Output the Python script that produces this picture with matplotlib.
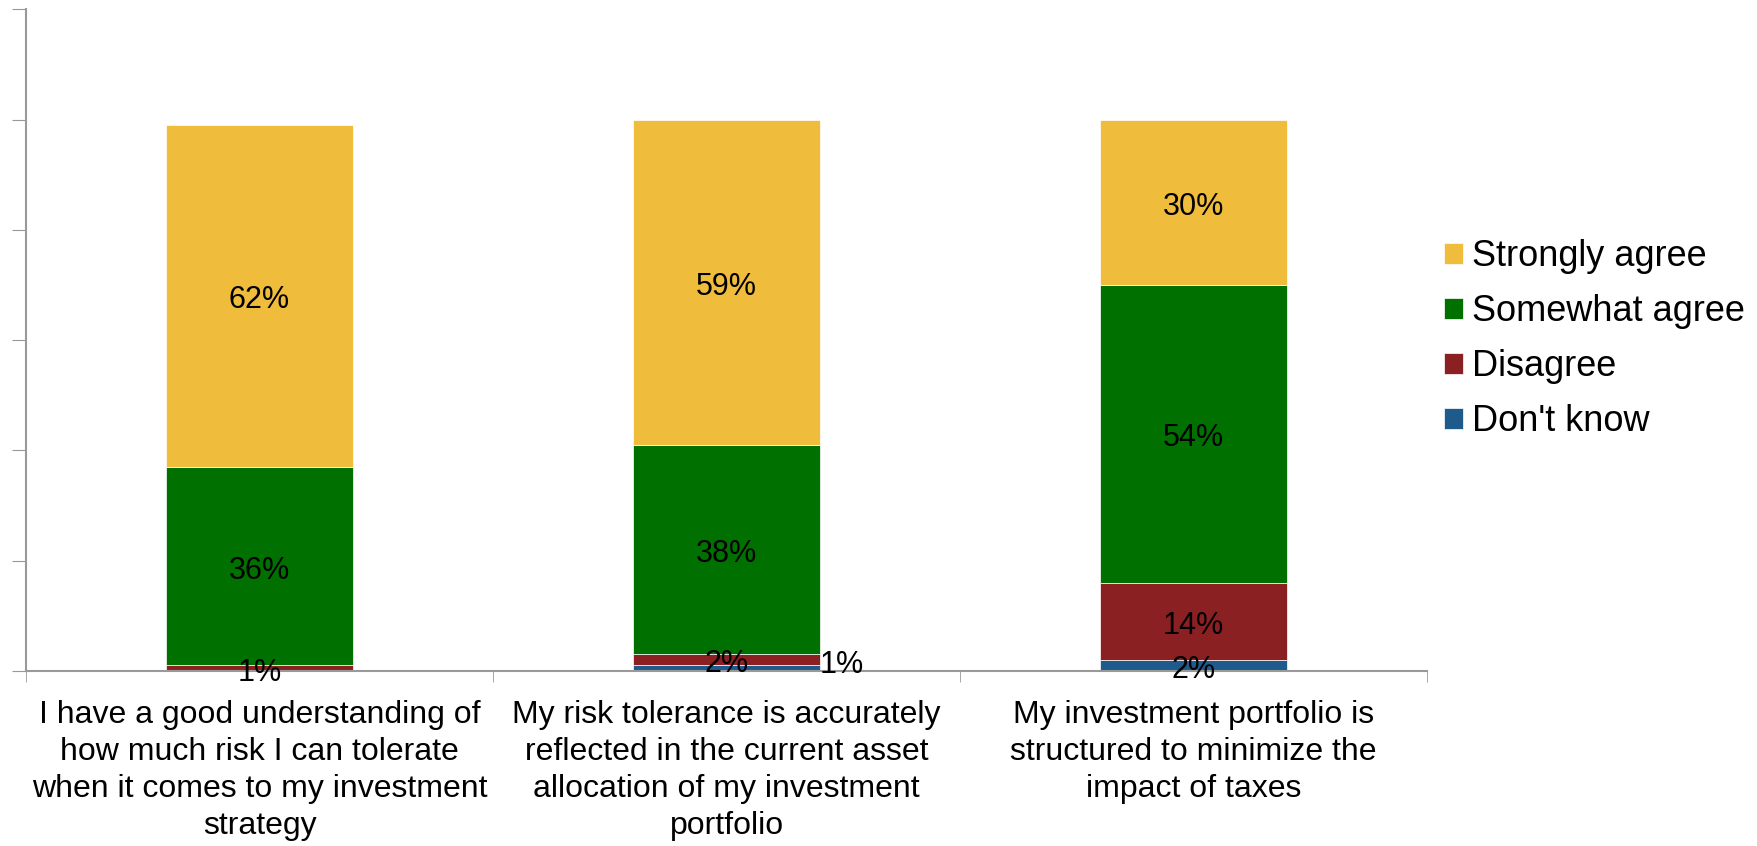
import matplotlib.pyplot as plt
import numpy as np

plt.rcParams['font.family'] = ['Liberation Sans', 'DejaVu Sans']

categories = ["I have a good understanding of\nhow much risk I can tolerate\nwhen it comes to my investment\nstrategy",
              "My risk tolerance is accurately\nreflected in the current asset\nallocation of my investment\nportfolio",
              "My investment portfolio is\nstructured to minimize the\nimpact of taxes"]
dont_know = [0, 1, 2]
disagree = [1, 2, 14]
somewhat = [36, 38, 54]
strongly = [62, 59, 30]

series = [("Don't know", dont_know, '#1F5A8C'),
          ("Disagree", disagree, '#8B2023'),
          ("Somewhat agree", somewhat, '#007000'),
          ("Strongly agree", strongly, '#F0BC3C')]

fig = plt.figure(figsize=(17.58, 8.46), dpi=100)
ax = fig.add_axes([0.0148, 0.207, 0.797, 0.782])

x = np.arange(len(categories))
bottom = np.zeros(len(categories))
bars = {}
for name, vals, col in series:
    vals = np.array(vals, dtype=float)
    bars[name] = ax.bar(x, vals, 0.4, bottom=bottom, color=col, label=name,
                        edgecolor='white', linewidth=0.5)
    for i, v in enumerate(vals):
        if v <= 0:
            continue
        if name == "Don't know" and i == 1:
            # label sits beside the bar
            ax.text(x[i] + 0.2, bottom[i] + v / 2 + 0.5, f'{int(v)}%', ha='left', va='center',
                    fontsize=22)
        else:
            ax.text(x[i], bottom[i] + v / 2 - 0.8, f'{int(v)}%', ha='center', va='center', fontsize=22)
    bottom += vals

ax.set_xlim(-0.5, 2.5)
ax.set_ylim(0, 120)
ax.set_yticks(np.arange(0, 121, 20))
ax.set_yticklabels([])
ax.set_xticks(x)
ax.set_xticklabels(categories, fontsize=23, linespacing=1.3)
ax.set_xticks([-0.5, 0.5, 1.5, 2.5], minor=True)
ax.tick_params(axis='x', which='major', length=0, pad=21)
ax.tick_params(axis='x', which='minor', length=8, color='#999999', direction='out')
ax.tick_params(axis='y', length=10, color='#999999', direction='out')

for s in ['top', 'right']:
    ax.spines[s].set_visible(False)
for s in ['left', 'bottom']:
    ax.spines[s].set_color('#999999')
    ax.spines[s].set_linewidth(1.5)

handles = [bars[n] for n in ["Strongly agree", "Somewhat agree", "Disagree", "Don't know"]]
labels = ["Strongly agree", "Somewhat agree", "Disagree", "Don't know"]
fig.legend(handles, labels, loc='center left', bbox_to_anchor=(0.8214, 0.599), frameon=False,
           fontsize=26, handlelength=0.52, handleheight=0.52, handletextpad=0.25,
           labelspacing=0.55, borderpad=0, borderaxespad=0)

fig.savefig('out.png', dpi=100)
